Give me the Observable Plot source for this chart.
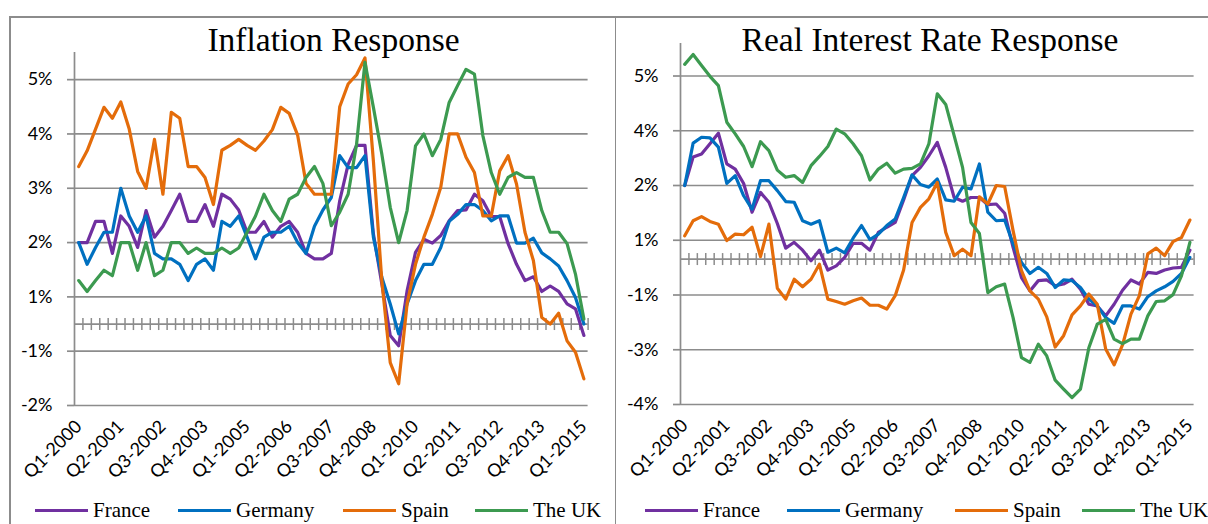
<!DOCTYPE html>
<html>
<head>
<meta charset="utf-8">
<script src="https://cdn.jsdelivr.net/npm/d3@7"></script>
<script src="https://cdn.jsdelivr.net/npm/@observablehq/plot@0.6"></script>
<style>
html, body { margin: 0; padding: 0; background: #fff; }
#page { position: relative; width: 1208px; height: 524px; overflow: hidden; background: #fff; }
.border { position: absolute; background: #8c8c8c; }
.panel { position: absolute; top: 0; }
.panel svg { overflow: visible; }
.title { position: absolute; top: 23px; font-family: "Liberation Serif", serif; font-size: 33.5px; line-height: 1; color: #000; white-space: nowrap; transform: translateX(-50%); }
.item { position: absolute; top: 500px; display: flex; align-items: center; gap: 5px; font-family: "Liberation Serif", serif; font-size: 21px; line-height: 1; color: #000; white-space: nowrap; }
.sw { width: 53px; height: 3.5px; }
</style>
</head>
<body>
<div id="page"></div>
<script>
// ---------- categories & ticks ----------
const quarters = [
  "Q1-2000","Q2-2000","Q3-2000","Q4-2000","Q1-2001","Q2-2001","Q3-2001","Q4-2001",
  "Q1-2002","Q2-2002","Q3-2002","Q4-2002","Q1-2003","Q2-2003","Q3-2003","Q4-2003",
  "Q1-2004","Q2-2004","Q3-2004","Q4-2004","Q1-2005","Q2-2005","Q3-2005","Q4-2005",
  "Q1-2006","Q2-2006","Q3-2006","Q4-2006","Q1-2007","Q2-2007","Q3-2007","Q4-2007",
  "Q1-2008","Q2-2008","Q3-2008","Q4-2008","Q1-2009","Q2-2009","Q3-2009","Q4-2009",
  "Q1-2010","Q2-2010","Q3-2010","Q4-2010","Q1-2011","Q2-2011","Q3-2011","Q4-2011",
  "Q1-2012","Q2-2012","Q3-2012","Q4-2012","Q1-2013","Q2-2013","Q3-2013","Q4-2013",
  "Q1-2014","Q2-2014","Q3-2014","Q4-2014","Q1-2015"
];
const xTickLabels = ["Q1-2000","Q2-2001","Q3-2002","Q4-2003","Q1-2005","Q2-2006","Q3-2007",
  "Q4-2008","Q1-2010","Q2-2011","Q3-2012","Q4-2013","Q1-2015"];

const countries = ["France", "Germany", "Spain", "The UK"];
const colors = ["#7030A0", "#0070C0", "#E46C0A", "#3C9A50"];

// ---------- Inflation response (%) ----------
const inflFrance = [
  1.50,1.50,1.89,1.89,1.30,1.99,1.80,1.41,2.09,1.60,
  1.80,2.09,2.39,1.89,1.89,2.20,1.80,2.39,2.30,2.10,
  1.69,1.69,1.89,1.60,1.80,1.89,1.69,1.30,1.20,1.20,
  1.30,2.27,2.94,3.29,3.29,1.66,0.74,-0.21,-0.40,0.61,
  1.32,1.56,1.49,1.63,1.90,2.09,2.10,2.39,2.27,1.98,
  1.98,1.48,1.10,0.80,0.87,0.60,0.70,0.60,0.37,0.28,
  -0.21];
const inflGermany = [
  1.50,1.10,1.41,1.69,1.69,2.50,1.99,1.69,1.99,1.30,
  1.20,1.20,1.10,0.80,1.10,1.20,0.99,1.89,1.80,1.99,
  1.60,1.20,1.60,1.69,1.69,1.80,1.50,1.30,1.80,2.10,
  2.33,3.10,2.88,2.88,3.10,1.60,0.86,0.37,-0.18,0.37,
  0.80,1.10,1.10,1.41,1.89,2.02,2.20,2.20,2.09,1.90,
  1.99,1.99,1.49,1.49,1.58,1.31,1.20,1.07,0.80,0.49,
  0.00];
const inflSpain = [
  2.90,3.19,3.59,3.99,3.79,4.09,3.59,2.81,2.50,3.40,
  2.39,3.90,3.79,2.90,2.90,2.70,2.20,3.20,3.29,3.40,
  3.29,3.20,3.37,3.58,3.99,3.88,3.48,2.59,2.39,2.39,
  2.39,4.00,4.42,4.59,4.90,3.00,0.80,-0.71,-1.10,0.37,
  1.10,1.60,2.02,2.52,3.50,3.50,3.07,2.79,1.99,1.99,
  2.82,3.10,2.58,1.69,1.17,0.12,0.00,0.20,-0.31,-0.52,
  -1.01];
const inflUK = [
  0.80,0.60,0.80,0.99,0.89,1.50,1.50,0.99,1.50,0.89,
  0.99,1.50,1.50,1.30,1.40,1.30,1.30,1.40,1.30,1.40,
  1.69,1.99,2.39,2.09,1.89,2.30,2.39,2.70,2.90,2.59,
  1.81,2.06,2.39,3.31,4.82,3.99,3.13,2.15,1.50,2.09,
  3.28,3.50,3.10,3.40,4.08,4.39,4.69,4.60,3.47,2.79,
  2.39,2.70,2.79,2.70,2.70,2.09,1.69,1.69,1.48,0.92,
  0.09];

// ---------- Real interest rate response (%) ----------
const rateFrance = [
  2.15,2.98,3.07,3.37,3.68,2.78,2.63,2.21,1.37,1.95,
  1.66,1.04,0.32,0.49,0.26,-0.05,0.26,-0.32,-0.20,0.05,
  0.46,0.46,0.26,0.78,0.93,1.07,1.73,2.44,2.68,3.02,
  3.41,2.68,1.80,1.69,1.80,1.80,1.59,1.61,1.34,0.34,
  -0.54,-0.93,-0.63,-0.61,-0.78,-0.73,-0.59,-0.88,-1.32,-1.37,
  -1.66,-1.32,-0.91,-0.61,-0.73,-0.39,-0.42,-0.32,-0.26,-0.24,
  0.26];
const rateGermany = [
  2.15,3.39,3.56,3.54,3.27,2.21,2.44,1.85,1.46,2.29,
  2.29,2.00,1.68,1.66,1.12,1.02,1.12,0.20,0.32,0.18,
  0.61,0.98,0.57,0.73,0.98,1.17,1.80,2.46,2.18,2.10,
  2.34,1.73,1.69,2.10,2.05,2.78,1.37,1.12,1.14,0.44,
  -0.10,-0.42,-0.24,-0.42,-0.83,-0.61,-0.63,-0.83,-1.17,-1.37,
  -1.71,-1.88,-1.37,-1.37,-1.46,-1.10,-0.93,-0.81,-0.65,-0.42,
  0.05];
const rateSpain = [
  0.68,1.12,1.24,1.10,1.02,0.54,0.73,0.71,0.93,0.07,
  1.02,-0.85,-1.17,-0.59,-0.81,-0.59,-0.15,-1.17,-1.24,-1.32,
  -1.22,-1.14,-1.35,-1.35,-1.46,-1.07,-0.32,1.07,1.51,1.76,
  2.24,0.78,0.10,0.29,0.10,1.82,1.61,2.15,2.12,0.83,
  -0.34,-0.93,-1.17,-1.69,-2.57,-2.24,-1.63,-1.37,-1.02,-1.32,
  -2.63,-3.09,-2.51,-1.61,-1.07,0.15,0.32,0.10,0.51,0.63,
  1.14];
const rateUK = [
  5.69,5.98,5.66,5.34,5.07,4.00,3.66,3.29,2.70,3.43,
  3.17,2.60,2.39,2.44,2.24,2.73,3.00,3.29,3.80,3.66,
  3.37,3.02,2.31,2.63,2.80,2.51,2.63,2.65,2.78,3.37,
  4.83,4.52,3.61,2.68,1.07,0.75,-0.98,-0.81,-0.73,-1.71,
  -2.88,-3.02,-2.49,-2.83,-3.54,-3.80,-4.05,-3.80,-2.59,-1.90,
  -1.76,-2.34,-2.47,-2.34,-2.34,-1.66,-1.24,-1.22,-1.04,-0.49,
  0.49];

// ---------- axis settings (Excel-style fixed min & major unit) ----------
const inflYDomain = [-1.5, 5.0];
const inflYTicks = [-1.5, -0.5, 0.5, 1.5, 2.5, 3.5, 4.5];
const rateYDomain = [-4.25, 6.3];
const rateYTicks = [-4.25, -2.65, -1.05, 0.55, 2.15, 3.75, 5.35];

// ---------- drawing ----------
const GRAY = "#8c8c8c";
const page = document.getElementById("page");

function excelPct(v) {
  const r = Math.sign(v) * Math.round(Math.abs(v) + 1e-9);
  return (r === 0 ? 0 : r) + "%";
}

const vTick = { draw(ctx) { ctx.moveTo(0, -6); ctx.lineTo(0, 6); } };

function panel({ left, width, marginLeft, marginRight, marginTop, plotBottom, domain, ticks, series, title, titleCenter, legendX }) {
  const height = 495;
  const rows = [];
  series.forEach((vals, k) => vals.forEach((v, i) => rows.push({ i, v, s: countries[k] })));
  const xTicks = xTickLabels.map(t => quarters.indexOf(t));
  const bounds = quarters.map((q, i) => i + 0.5);

  const chart = Plot.plot({
    width, height, marginLeft, marginRight, marginTop,
    marginBottom: height - plotBottom,
    style: { fontFamily: "Lato, sans-serif", fontSize: "18px", color: "#000", background: "transparent", overflow: "visible" },
    x: { type: "linear", domain: [-0.5, quarters.length - 0.5] },
    y: { domain },
    color: { domain: countries, range: colors },
    marks: [
      Plot.ruleY(ticks, { stroke: GRAY, strokeWidth: 1.7 }),
      Plot.ruleX([-0.5], { stroke: GRAY, strokeWidth: 1.7 }),
      Plot.axisY({ ticks, tickFormat: excelPct, tickSize: 7, tickPadding: 15, stroke: GRAY, strokeWidth: 1.7, fill: "#000", label: null }),
      Plot.axisX({ ticks: xTicks, tickFormat: i => quarters[i], tickRotate: -45, tickSize: 0, tickPadding: 18, fill: "#000", label: null }),
      Plot.ruleY([0], { stroke: GRAY, strokeWidth: 1.7 }),
      Plot.dot(bounds, { x: d => d, y: () => 0, symbol: vTick, fill: "none", stroke: GRAY, strokeWidth: 1.5 }),
      Plot.line(rows, { x: "i", y: "v", z: "s", stroke: "s", strokeWidth: 3.2, strokeLinejoin: "round", strokeLinecap: "round" })
    ]
  });
  const holder = document.createElement("div");
  holder.className = "panel";
  holder.style.left = left + "px";
  holder.appendChild(chart);
  page.appendChild(holder);

  const t = document.createElement("div");
  t.className = "title";
  t.style.left = titleCenter + "px";
  t.textContent = title;
  page.appendChild(t);

  countries.forEach((c, k) => {
    const it = document.createElement("div");
    it.className = "item";
    it.style.left = legendX[k] + "px";
    const sw = document.createElement("div");
    sw.className = "sw";
    sw.style.background = colors[k];
    const tx = document.createElement("span");
    tx.textContent = c;
    it.appendChild(sw); it.appendChild(tx);
    page.appendChild(it);
  });
}

panel({
  left: 0, width: 614, marginLeft: 74, marginRight: 26.4, marginTop: 52, plotBottom: 405,
  domain: inflYDomain, ticks: inflYTicks,
  series: [inflFrance, inflGermany, inflSpain, inflUK],
  title: "Inflation Response", titleCenter: 333.5, legendX: [35, 178, 343, 475]
});
panel({
  left: 615, width: 593, marginLeft: 65, marginRight: 14.4, marginTop: 43, plotBottom: 404,
  domain: rateYDomain, ticks: rateYTicks,
  series: [rateFrance, rateGermany, rateSpain, rateUK],
  title: "Real Interest Rate Response", titleCenter: 930, legendX: [645, 787, 955, 1082]
});

// chart-area borders
[[9, 16, 1.5, 508], [9, 16, 1199, 1.5], [614.5, 16, 1.5, 508]].forEach(([x, y, w, h]) => {
  const b = document.createElement("div");
  b.className = "border";
  Object.assign(b.style, { left: x + "px", top: y + "px", width: w + "px", height: h + "px" });
  page.appendChild(b);
});
</script>
</body>
</html>
